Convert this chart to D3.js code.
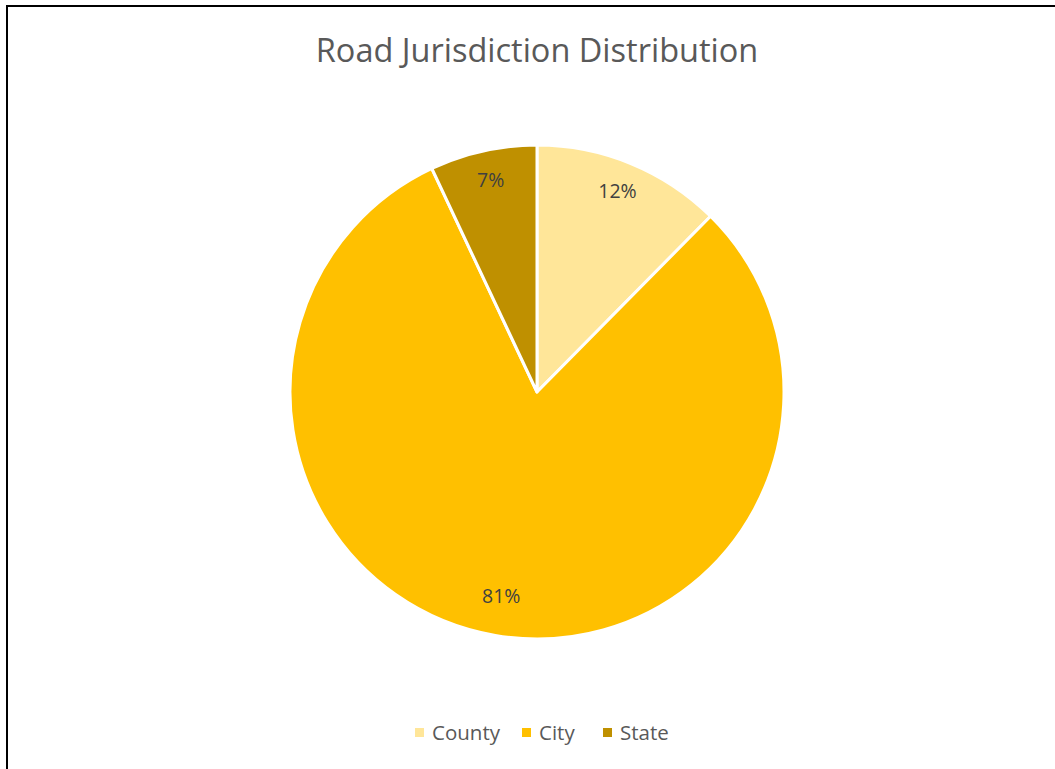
<!DOCTYPE html>
<html>
<head>
<meta charset="utf-8">
<script src="https://cdn.jsdelivr.net/npm/d3@7"></script>
<style>
	body { margin: 0; background: #fff; }
	text { font-family: "Open Sans", "Noto Sans", sans-serif; }
</style>
</head>
<body>
<svg id="chart" width="1055" height="769"></svg>
<script>
// Data (percent of road length)
var categories = ["County", "City", "State"];
var shares = [12.4, 80.6, 7.0];
var colors = ["#FFE699", "#FFC000", "#BF9000"];

var svg = d3.select("#chart");

// Chart frame, runs off the page on the right and bottom
svg.append("rect")
	.attr("x", 7).attr("y", 6)
	.attr("width", 1100).attr("height", 800)
	.attr("fill", "#fff")
	.attr("stroke", "#000")
	.attr("stroke-width", 2);

svg.append("text")
	.attr("x", 537).attr("y", 62)
	.attr("text-anchor", "middle")
	.attr("fill", "#595959")
	.style("font-size", "32.5px")
	.text("Road Jurisdiction Distribution");

var cx = 537, cy = 392, r = 247;
var data = categories.map(function(c, i) { return { name: c, value: shares[i], color: colors[i] }; });

var pie = d3.pie().sort(null).value(function(d) { return d.value; });
var arc = d3.arc().innerRadius(0).outerRadius(r);
var labelArc = d3.arc().innerRadius(212).outerRadius(212);

var g = svg.append("g").attr("transform", "translate(" + cx + "," + cy + ")");
var arcs = pie(data);

g.selectAll("path.slice")
	.data(arcs)
	.enter().append("path")
	.attr("class", "slice")
	.attr("d", arc)
	.attr("fill", function(d) { return d.data.color; })
	.attr("stroke", "#fff")
	.attr("stroke-width", 3)
	.attr("stroke-linejoin", "round");

var total = d3.sum(shares);
g.selectAll("text.lbl")
	.data(arcs)
	.enter().append("text")
	.attr("class", "lbl")
	.attr("transform", function(d) { return "translate(" + labelArc.centroid(d) + ")"; })
	.attr("text-anchor", "middle")
	.attr("dy", "0.1em")
	.attr("fill", "#404040")
	.style("font-size", "19.5px")
	.text(function(d) { return Math.round(d.data.value / total * 100) + "%"; });

// Legend
var legendX = [415, 522, 603];
var legend = svg.append("g");
var item = legend.selectAll("g.item")
	.data(data)
	.enter().append("g")
	.attr("class", "item")
	.attr("transform", function(d, i) { return "translate(" + legendX[i] + ",728)"; });

item.append("rect")
	.attr("width", 9).attr("height", 9)
	.attr("fill", function(d) { return d.color; });

item.append("text")
	.attr("x", 17).attr("y", 12)
	.attr("fill", "#595959")
	.style("font-size", "20.5px")
	.text(function(d) { return d.name; });
</script>
</body>
</html>
